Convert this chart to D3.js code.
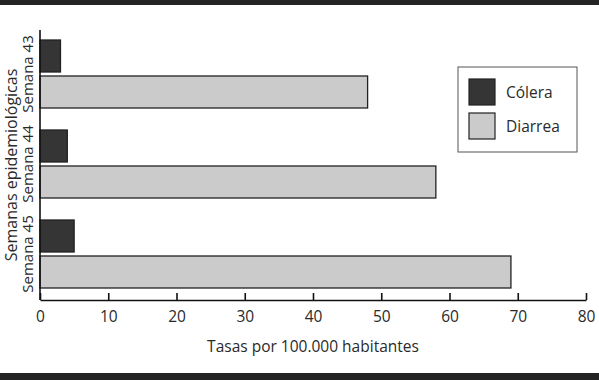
<!DOCTYPE html>
<html>
<head>
<meta charset="utf-8">
<script src="https://cdn.jsdelivr.net/npm/d3@7"></script>
<style>
  body { margin: 0; background: #fff; }
  text { font-family: "Open Sans", Lato, sans-serif; fill: #2a2a2a; }
</style>
</head>
<body>
<div id="chart"></div>
<script>
////// DATOS

var semanas = ["Semana 43", "Semana 44", "Semana 45"];
var series = ["Cólera", "Diarrea"];
var colera = [3, 4, 5];
var diarrea = [48, 58, 69];
var ticks = [0, 10, 20, 30, 40, 50, 60, 70, 80];

var colores = { "Cólera": "#353535", "Diarrea": "#cbcbcb" };

////// DIBUJO

var width = 599, height = 380;

var svg = d3.select("#chart")
  .append("svg")
  .attr("width", width)
  .attr("height", height);

// bandas oscuras arriba y abajo
svg.append("rect").attr("x", 0).attr("y", 0).attr("width", width).attr("height", 5).style("fill", "#242424");
svg.append("rect").attr("x", 0).attr("y", 373).attr("width", width).attr("height", 7).style("fill", "#242424");

var x = d3.scaleLinear().domain([0, 80]).range([40, 586]);
var y = d3.scaleBand().domain(semanas).range([30, 300]);
var ySub = d3.scaleBand().domain(series).range([10, 78]).paddingInner(4 / 36);

// barras
var filas = semanas.map(function(s, i) {
  return { semana: s, valores: [{ serie: "Cólera", v: colera[i] }, { serie: "Diarrea", v: diarrea[i] }] };
});

var grupos = svg.selectAll("g.grupo")
  .data(filas)
  .enter().append("g")
  .attr("class", "grupo")
  .attr("transform", function(d) { return "translate(0," + y(d.semana) + ")"; });

grupos.selectAll("rect")
  .data(function(d) { return d.valores; })
  .enter().append("rect")
  .attr("x", x(0))
  .attr("y", function(d) { return ySub(d.serie); })
  .attr("width", function(d) { return x(d.v) - x(0); })
  .attr("height", ySub.bandwidth())
  .style("fill", function(d) { return colores[d.serie]; })
  .style("stroke", "#222")
  .style("stroke-width", 1.3);

// etiquetas de semana
grupos.append("text")
  .attr("transform", function() { return "translate(33," + (ySub.range()[0] + ySub.range()[1]) / 2 + ") rotate(-90)"; })
  .attr("text-anchor", "middle")
  .style("font-size", "15px")
  .text(function(d) { return d.semana; });

// eje x
var ejeX = d3.axisBottom(x)
  .tickValues(ticks)
  .tickSizeInner(-7)
  .tickSizeOuter(0)
  .tickPadding(11)
  .tickFormat(d3.format("d"));

var gx = svg.append("g")
  .attr("transform", "translate(0,300)")
  .call(ejeX);
gx.select(".domain").style("stroke", "#111").style("stroke-width", 1.6);
gx.selectAll(".tick line").style("stroke", "#111").style("stroke-width", 1.6);
gx.selectAll(".tick text")
  .style("font-family", "'Open Sans', Lato, sans-serif")
  .style("font-size", "15.5px")
  .style("fill", "#2a2a2a");

// eje y (solo linea)
svg.append("line")
  .attr("x1", x(0)).attr("x2", x(0))
  .attr("y1", 30).attr("y2", 300)
  .style("stroke", "#111")
  .style("stroke-width", 1.6);

// titulos de ejes
svg.append("text")
  .attr("x", 313)
  .attr("y", 352)
  .attr("text-anchor", "middle")
  .style("font-size", "15.5px")
  .text("Tasas por 100.000 habitantes");

svg.append("text")
  .attr("transform", "translate(17,165) rotate(-90)")
  .attr("text-anchor", "middle")
  .style("font-size", "16px")
  .text("Semanas epidemiológicas");

// leyenda
var leyenda = svg.append("g").attr("transform", "translate(458,67)");
leyenda.append("rect")
  .attr("width", 119).attr("height", 85)
  .style("fill", "#fff")
  .style("stroke", "#555")
  .style("stroke-width", 1);

var items = leyenda.selectAll("g.item")
  .data(series)
  .enter().append("g")
  .attr("class", "item")
  .attr("transform", function(d, i) { return "translate(11," + (12 + i * 34) + ")"; });

items.append("rect")
  .attr("width", 26).attr("height", 26)
  .style("fill", function(d) { return colores[d]; })
  .style("stroke", "#222")
  .style("stroke-width", 1.2);

items.append("text")
  .attr("x", 37)
  .attr("y", 19)
  .style("font-size", "15.5px")
  .text(function(d) { return d; });
</script>
</body>
</html>
